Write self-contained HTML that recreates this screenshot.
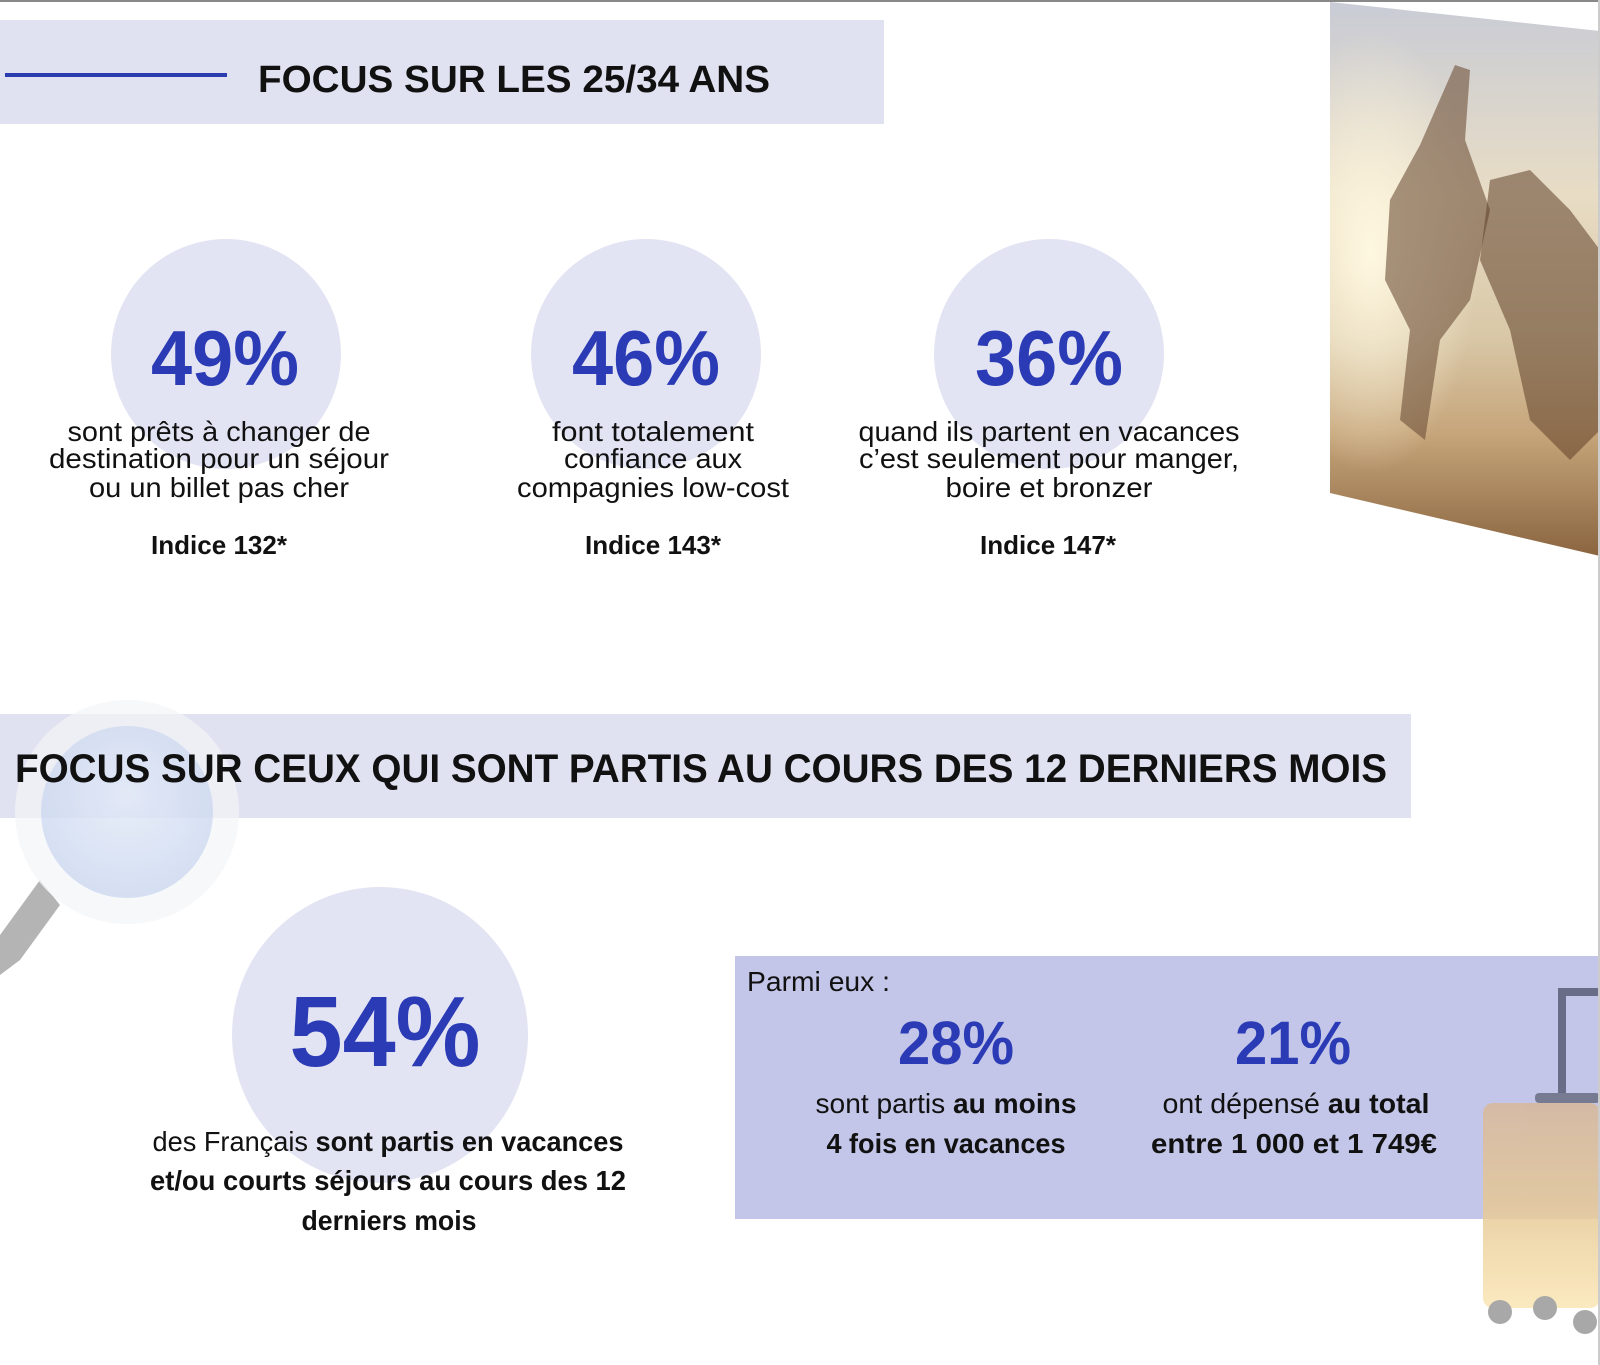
<!DOCTYPE html>
<html><head><meta charset="utf-8"><style>
html,body{margin:0;padding:0;background:#fff;width:1600px;height:1365px;overflow:hidden}
svg{display:block}
text{font-family:"Liberation Sans",sans-serif}
</style></head><body>
<svg width="1600" height="1365" viewBox="0 0 1600 1365" xmlns="http://www.w3.org/2000/svg">
<defs>
<linearGradient id="sky" x1="0" y1="0" x2="0" y2="1">
<stop offset="0" stop-color="#c9ccd6"/><stop offset="0.35" stop-color="#e8dcc4"/><stop offset="0.6" stop-color="#d9c8a8"/><stop offset="0.78" stop-color="#c6a57a"/><stop offset="1" stop-color="#8a6540"/>
</linearGradient>
<radialGradient id="sun" cx="0.15" cy="0.45" r="0.4"><stop offset="0" stop-color="#fff8e0"/><stop offset="1" stop-color="#fff8e0" stop-opacity="0"/></radialGradient>
<radialGradient id="lens" cx="0.5" cy="0.4" r="0.6"><stop offset="0" stop-color="#dfe8f8"/><stop offset="1" stop-color="#c4d2ee"/></radialGradient>
<linearGradient id="suit" x1="0" y1="0" x2="0" y2="1"><stop offset="0" stop-color="#d8b99a"/><stop offset="0.5" stop-color="#e6c895"/><stop offset="1" stop-color="#fbe6b5"/></linearGradient>
</defs>
<rect x="0" y="0" width="1600" height="2" fill="#888"/>
<rect x="0" y="20" width="884" height="104" fill="#e1e2f1"/>
<rect x="5" y="73" width="222" height="4" fill="#2b3bb0"/>
<text x="258" y="92" font-size="38" font-weight="bold" fill="#111" textLength="512" lengthAdjust="spacingAndGlyphs">FOCUS SUR LES 25/34 ANS</text>

<polygon points="1330,2 1600,31 1600,556 1330,493" fill="url(#sky)"/>
<polygon points="1330,2 1600,31 1600,556 1330,493" fill="url(#sun)"/>
<path d="M1455 65 L1470 70 L1465 140 L1490 210 L1470 300 L1440 340 L1425 440 L1400 420 L1410 330 L1385 280 L1390 200 L1420 145 Z" fill="#6e5038" opacity="0.6"/>
<path d="M1490 180 L1530 170 L1570 210 L1600 250 L1600 430 L1570 460 L1530 420 L1510 330 L1480 260Z" fill="#5e4028" opacity="0.55"/>

<circle cx="226" cy="354" r="115" fill="#e3e4f3"/>
<circle cx="646" cy="354" r="115" fill="#e3e4f3"/>
<circle cx="1049" cy="354" r="115" fill="#e3e4f3"/>
<g font-weight="bold" fill="#2b3bb5" font-size="78" text-anchor="middle">
<text x="225" y="385" textLength="148" lengthAdjust="spacingAndGlyphs">49%</text>
<text x="646" y="385" textLength="148" lengthAdjust="spacingAndGlyphs">46%</text>
<text x="1049" y="385" textLength="148" lengthAdjust="spacingAndGlyphs">36%</text>
</g>
<g font-size="28" fill="#111" text-anchor="middle">
<text x="219" y="441" textLength="303" lengthAdjust="spacingAndGlyphs">sont prêts à changer de</text>
<text x="219" y="468" textLength="340" lengthAdjust="spacingAndGlyphs">destination pour un séjour</text>
<text x="219" y="497" textLength="260" lengthAdjust="spacingAndGlyphs">ou un billet pas cher</text>
<text x="653" y="441" textLength="202" lengthAdjust="spacingAndGlyphs">font totalement</text>
<text x="653" y="468" textLength="178" lengthAdjust="spacingAndGlyphs">confiance aux</text>
<text x="653" y="497" textLength="272" lengthAdjust="spacingAndGlyphs">compagnies low-cost</text>
<text x="1049" y="441" textLength="381" lengthAdjust="spacingAndGlyphs">quand ils partent en vacances</text>
<text x="1049" y="468" textLength="380" lengthAdjust="spacingAndGlyphs">c’est seulement pour manger,</text>
<text x="1049" y="497" textLength="207" lengthAdjust="spacingAndGlyphs">boire et bronzer</text>
</g>
<g font-size="26" font-weight="bold" fill="#111" text-anchor="middle">
<text x="219" y="554" textLength="136" lengthAdjust="spacingAndGlyphs">Indice 132*</text>
<text x="653" y="554" textLength="136" lengthAdjust="spacingAndGlyphs">Indice 143*</text>
<text x="1048" y="554" textLength="136" lengthAdjust="spacingAndGlyphs">Indice 147*</text>
</g>

<rect x="0" y="714" width="1411" height="104" fill="#e1e2f1"/>
<g opacity="0.85">
<path d="M40 880 L0 935 L0 975 L20 960 L60 905 Z" fill="#a8a8a8"/>
<circle cx="127" cy="812" r="112" fill="#f4f5f8" opacity="0.8"/>
<circle cx="127" cy="812" r="86" fill="url(#lens)" opacity="0.8"/>
</g>
<text x="15" y="782" font-size="40" font-weight="bold" fill="#111" textLength="1372" lengthAdjust="spacingAndGlyphs">FOCUS SUR CEUX QUI SONT PARTIS AU COURS DES 12 DERNIERS MOIS</text>

<circle cx="380" cy="1035" r="148" fill="#e3e4f3"/>
<text x="385" y="1066" font-size="100" font-weight="bold" fill="#2b3bb5" text-anchor="middle" textLength="191" lengthAdjust="spacingAndGlyphs">54%</text>
<g font-size="28" fill="#111" text-anchor="middle">
<text x="388" y="1151" textLength="471" lengthAdjust="spacingAndGlyphs">des Français <tspan font-weight="bold">sont partis en vacances</tspan></text>
<text x="388" y="1190" font-weight="bold" textLength="476" lengthAdjust="spacingAndGlyphs">et/ou courts séjours au cours des 12</text>
<text x="389" y="1230" font-weight="bold" textLength="175" lengthAdjust="spacingAndGlyphs">derniers mois</text>
</g>

<rect x="735" y="956" width="865" height="263" fill="#c3c6e8"/>
<text x="747" y="991" font-size="28" fill="#111" textLength="143" lengthAdjust="spacingAndGlyphs">Parmi eux :</text>
<g font-size="61" font-weight="bold" fill="#2b3bb5" text-anchor="middle">
<text x="956" y="1064" textLength="116" lengthAdjust="spacingAndGlyphs">28%</text>
<text x="1293" y="1064" textLength="116" lengthAdjust="spacingAndGlyphs">21%</text>
</g>
<g font-size="28" fill="#111" text-anchor="middle">
<text x="946" y="1113" textLength="261" lengthAdjust="spacingAndGlyphs">sont partis <tspan font-weight="bold">au moins</tspan></text>
<text x="946" y="1153" font-weight="bold" textLength="239" lengthAdjust="spacingAndGlyphs">4 fois en vacances</text>
<text x="1296" y="1113" textLength="267" lengthAdjust="spacingAndGlyphs">ont dépensé <tspan font-weight="bold">au total</tspan></text>
<text x="1294" y="1153" font-weight="bold" textLength="286" lengthAdjust="spacingAndGlyphs">entre 1 000 et 1 749€</text>
</g>
<g opacity="0.85">
<rect x="1558" y="988" width="8" height="115" fill="#5a5e78"/>
<rect x="1558" y="988" width="42" height="8" fill="#5a5e78"/>
<rect x="1535" y="1093" width="65" height="10" rx="4" fill="#6a6e84"/>
<rect x="1483" y="1103" width="117" height="205" rx="10" fill="url(#suit)"/>
<circle cx="1500" cy="1312" r="12" fill="#999"/>
<circle cx="1545" cy="1308" r="12" fill="#999"/>
<circle cx="1585" cy="1322" r="12" fill="#999"/>
</g>
<rect x="1598" y="0" width="2" height="1365" fill="#ccc"/>
</svg>
</body></html>
